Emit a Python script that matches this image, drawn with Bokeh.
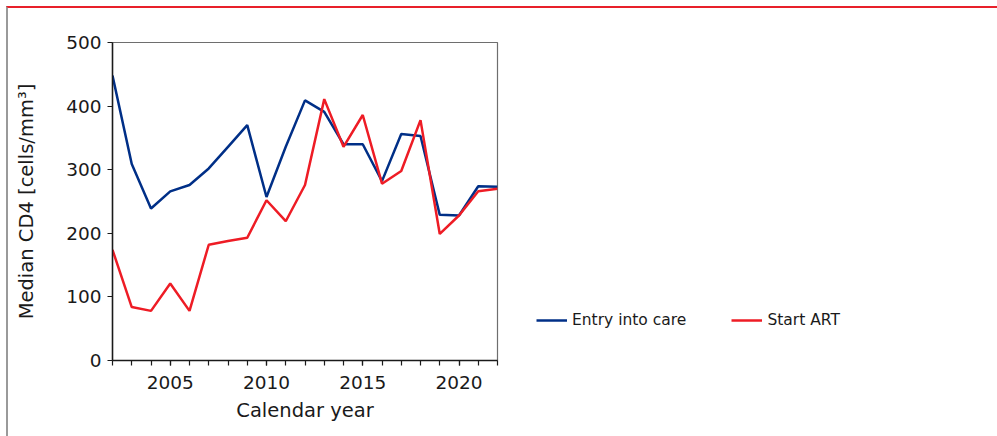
from bokeh.plotting import figure
from bokeh.layouts import row
from bokeh.models import FixedTicker, Legend, LegendItem, Range1d
from bokeh.embed import file_html
from bokeh.resources import INLINE

years = list(range(2002, 2023))
entry_into_care = [448, 309, 239, 266, 276, 302, 336, 370, 257, 336, 409, 391,
                   340, 340, 282, 356, 353, 229, 228, 274, 273]
start_art = [174, 84, 78, 121, 78, 182, 188, 193, 252, 219, 276, 411,
             336, 386, 278, 298, 378, 199, 228, 266, 270]
y_ticks = [0, 100, 200, 300, 400, 500]
x_ticks = [2005, 2010, 2015, 2020]

FONT = "DejaVu Sans"
BLUE = "#002f87"
RED = "#ee1c25"
TXT = "#1a1a1a"

# main chart
p = figure(width=500, height=428, output_backend="svg", toolbar_location=None,
           x_range=Range1d(2002, 2022), y_range=Range1d(0, 500),
           min_border_left=104, min_border_right=11, min_border_top=34,
           min_border_bottom=76)

p.xgrid.visible = False
p.ygrid.visible = False
p.outline_line_color = "#6e6e6e"
p.outline_line_width = 1.2
p.background_fill_color = "white"
p.border_fill_color = "white"

p.line(years, entry_into_care, line_color=BLUE, line_width=2.5)
p.line(years, start_art, line_color=RED, line_width=2.5)

p.xaxis.ticker = FixedTicker(ticks=x_ticks, minor_ticks=years)
p.yaxis.ticker = FixedTicker(ticks=y_ticks, minor_ticks=[])
p.xaxis.axis_label = "Calendar year"
p.yaxis.axis_label = "Median CD4 [cells/mm\u00b3]"

for ax in (p.xaxis, p.yaxis):
    ax.axis_line_color = "#1a1a1a"
    ax.axis_line_width = 1.5
    ax.major_tick_line_color = "#1a1a1a"
    ax.minor_tick_line_color = "#1a1a1a"
    ax.major_tick_line_width = 1.2
    ax.minor_tick_line_width = 1.2
    ax.major_tick_in = 0
    ax.major_tick_out = 5
    ax.minor_tick_in = 0
    ax.minor_tick_out = 5
    ax.major_label_text_font = FONT
    ax.major_label_text_font_size = "18.5px"
    ax.major_label_text_color = TXT
    ax.axis_label_text_font = FONT
    ax.axis_label_text_font_size = "19.5px"
    ax.axis_label_text_font_style = "normal"
    ax.axis_label_text_color = TXT

p.xaxis.major_label_standoff = 10
p.xaxis.axis_label_standoff = 7
p.yaxis.major_label_standoff = 6
p.yaxis.axis_label_standoff = 25

# legend panel (same series, kept out of view; only the legend shows)
q = figure(width=489, height=428, output_backend="svg", toolbar_location=None,
           x_range=Range1d(0, 1), y_range=Range1d(0, 1), min_border=0)
q.axis.visible = False
q.xgrid.visible = False
q.ygrid.visible = False
q.outline_line_color = None
q.background_fill_color = "white"
q.border_fill_color = "white"
r1 = q.line(years, entry_into_care, line_color=BLUE, line_width=2.5)
r2 = q.line(years, start_art, line_color=RED, line_width=2.5)

legend = Legend(items=[LegendItem(label="Entry into care", renderers=[r1]),
                       LegendItem(label="Start ART", renderers=[r2])],
                orientation="horizontal", location=(28, 31),
                border_line_alpha=0, background_fill_alpha=0,
                label_text_font=FONT, label_text_font_size="15.5px",
                label_text_color=TXT, glyph_width=31, glyph_height=16,
                spacing=45, padding=0, margin=0, label_standoff=5)
q.add_layout(legend, "center")

layout = row(p, q)
layout.styles = {"margin-top": "6px", "margin-left": "6px",
                 "border-top": "2px solid #e8202a", "border-left": "2px solid #9a9a9a"}

open("out.html", "w").write(file_html(layout, INLINE))
